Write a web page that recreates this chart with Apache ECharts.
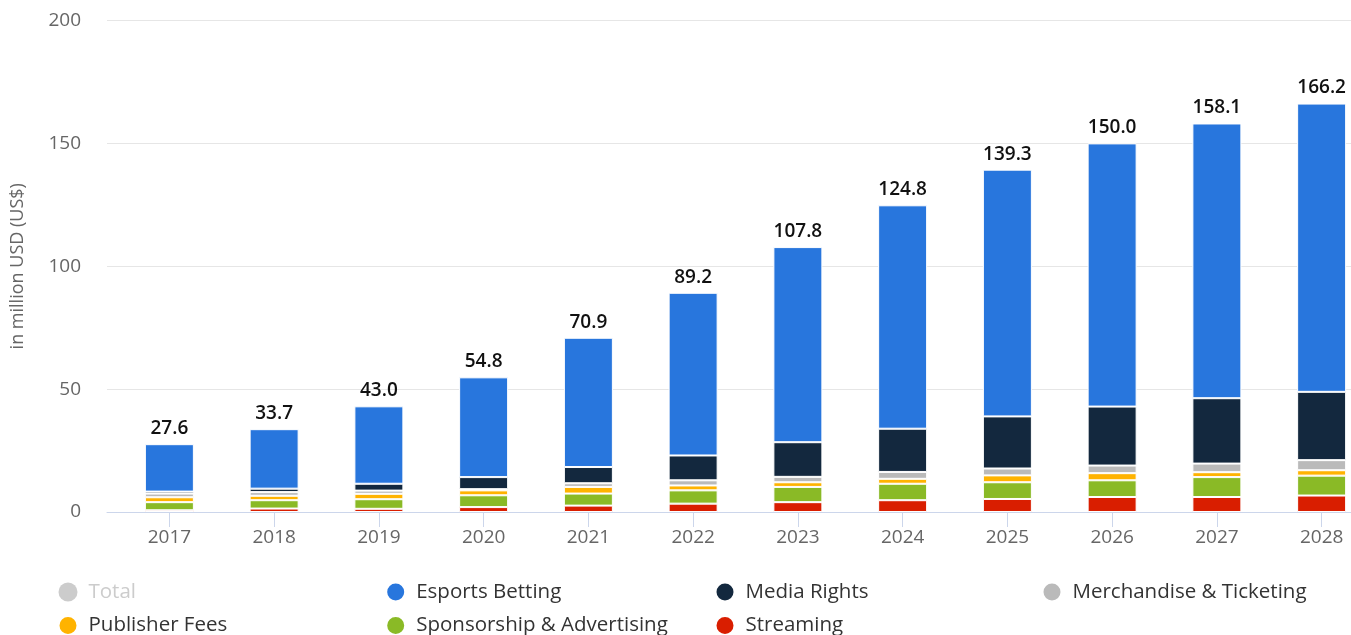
<!DOCTYPE html>
<html>
<head>
<meta charset="utf-8">
<script src="https://cdn.jsdelivr.net/npm/echarts@6/dist/echarts.min.js"></script>
<style>
  html, body { margin: 0; padding: 0; background: #fff; }
  #chart { width: 1351px; height: 635px; }
</style>
</head>
<body>
<div id="chart"></div>
<script>
// Esports revenue by segment, in million USD
const years = ['2017', '2018', '2019', '2020', '2021', '2022', '2023', '2024', '2025', '2026', '2027', '2028'];
const totals = [27.6, 33.7, 43.0, 54.8, 70.9, 89.2, 107.8, 124.8, 139.3, 150.0, 158.1, 166.2];
const streaming = [0.7, 1.4, 1.3, 2.0, 2.6, 3.4, 4.0, 4.8, 5.3, 6.1, 6.1, 6.7];
const sponsorship = [3.3, 3.4, 3.9, 4.8, 4.9, 5.4, 6.2, 6.7, 6.8, 6.8, 8.1, 8.1];
const publisherFees = [2.0, 1.8, 2.2, 2.0, 2.7, 2.0, 1.9, 2.0, 2.8, 2.9, 2.0, 2.2];
const merchandise = [1.5, 1.5, 1.3, 0.5, 1.5, 2.1, 2.2, 2.8, 2.8, 3.1, 3.5, 4.1];
const mediaRights = [0.8, 1.4, 2.8, 4.9, 6.6, 10.1, 14.1, 17.6, 21.2, 24.0, 26.6, 27.8];
const esportsBetting = [19.3, 24.2, 31.5, 40.6, 52.6, 66.2, 79.4, 90.9, 100.4, 107.1, 111.8, 117.3];
const yTicks = { min: 0, max: 200, interval: 50 };

const FONT = '"Open Sans", "Noto Sans", sans-serif';
const AXIS_COLOR = '#ccd6eb';

const chart = echarts.init(document.getElementById('chart'), null, { renderer: 'canvas' });

function seg(name, data, color, extra) {
  return Object.assign({
    name: name,
    type: 'bar',
    stack: 'rev',
    xAxisIndex: 1,
    yAxisIndex: 1,
    data: data,
    barWidth: 49,
    itemStyle: { color: color, borderColor: '#fff', borderWidth: 1 },
    emphasis: { disabled: true }
  }, extra || {});
}

const legendBase = {
  orient: 'vertical',
  top: 581.5,
  height: 120,
  padding: 0,
  itemWidth: 19,
  itemHeight: 19,
  itemGap: 12.5,
  icon: 'circle',
  inactiveColor: '#cccccc',
  textStyle: {
    fontFamily: FONT, fontSize: 20.5, fontWeight: 500, color: '#333',
    padding: [0, 0, 0, 6], lineHeight: 19
  }
};

chart.setOption({
  animation: false,
  textStyle: { fontFamily: FONT },
  grid: [
    { left: 107, top: 20.5, width: 1244, height: 491.5, outerBoundsMode: 'none' },
    { left: 117, top: 20.5, width: 1257, height: 491.5, outerBoundsMode: 'none' }
  ],
  xAxis: [
    {
      gridIndex: 0, type: 'value', min: 0, max: 1,
      axisLine: { show: true, lineStyle: { color: AXIS_COLOR, width: 1 } },
      axisTick: { show: false }, axisLabel: { show: false }, splitLine: { show: false }
    },
    {
      gridIndex: 1, type: 'category', data: years,
      axisLine: { show: true, lineStyle: { color: AXIS_COLOR, width: 1 } },
      axisTick: { show: true, alignWithLabel: true, length: 15, lineStyle: { color: AXIS_COLOR } },
      axisLabel: { fontSize: 19, color: '#666', margin: 16, fontFamily: FONT }
    }
  ],
  yAxis: [
    {
      gridIndex: 0, type: 'value', min: yTicks.min, max: yTicks.max, interval: yTicks.interval,
      name: 'in million USD (US$)',
      nameLocation: 'middle',
      nameGap: 80,
      nameRotate: 90,
      nameTextStyle: { fontSize: 18, color: '#666', fontFamily: FONT },
      axisLine: { show: false }, axisTick: { show: false },
      axisLabel: { fontSize: 19, color: '#666', margin: 26, fontFamily: FONT },
      splitLine: { lineStyle: { color: '#e6e6e6', width: 1 } }
    },
    {
      gridIndex: 1, type: 'value', min: yTicks.min, max: yTicks.max, interval: yTicks.interval,
      show: false, splitLine: { show: false }
    }
  ],
  legend: [
    Object.assign({}, legendBase, { left: 57.5, data: ['Total', 'Publisher Fees'], selected: { 'Total': false } }),
    Object.assign({}, legendBase, { left: 385.2, data: ['Esports Betting', 'Sponsorship & Advertising'] }),
    Object.assign({}, legendBase, { left: 714.5, data: ['Media Rights', 'Streaming'] }),
    Object.assign({}, legendBase, { left: 1041.5, data: ['Merchandise & Ticketing'] })
  ],
  series: [
    seg('Streaming', streaming, '#d91e00'),
    seg('Sponsorship & Advertising', sponsorship, '#8aba26'),
    seg('Publisher Fees', publisherFees, '#ffb300'),
    seg('Merchandise & Ticketing', merchandise, '#bababa'),
    seg('Media Rights', mediaRights, '#13283e'),
    seg('Esports Betting', esportsBetting, '#2876dd', {
      label: {
        show: true,
        position: 'top',
        distance: 6,
        fontSize: 19,
        fontWeight: 600,
        color: '#111',
        fontFamily: FONT,
        formatter: function (p) { return totals[p.dataIndex].toFixed(1); }
      }
    }),
    {
      name: 'Total', type: 'line', xAxisIndex: 1, yAxisIndex: 1,
      data: totals, showSymbol: false, lineStyle: { opacity: 0 },
      itemStyle: { color: '#cccccc' }
    }
  ]
});
</script>
</body>
</html>
